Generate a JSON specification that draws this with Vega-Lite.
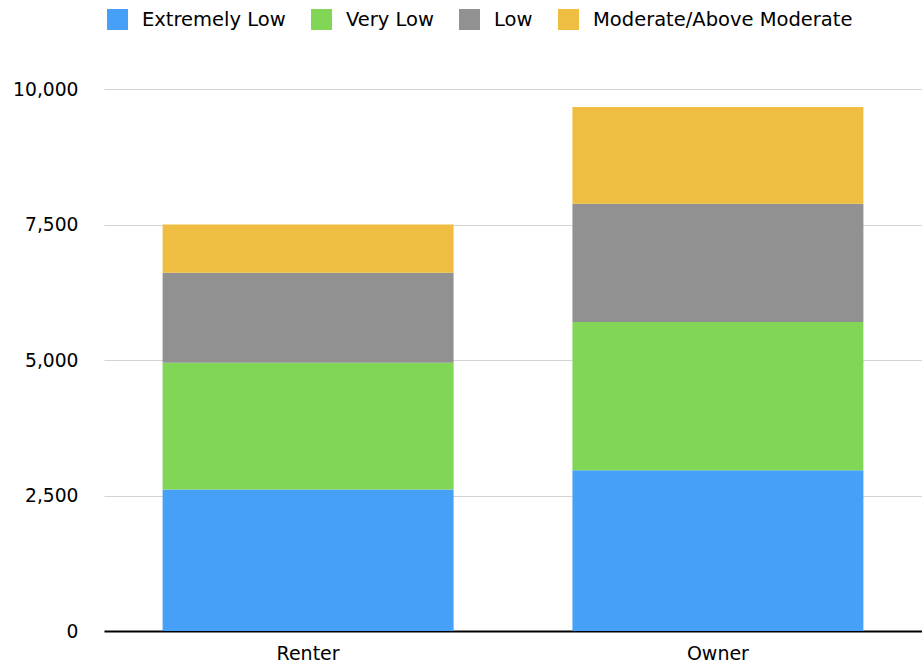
{
  "$schema": "https://vega.github.io/schema/vega-lite/v6.json",
  "autosize": "none",
  "width": 818,
  "height": 542,
  "padding": {"left": 104, "top": 89, "right": 0, "bottom": 33},
  "background": "white",
  "config": {
    "font": "DejaVu Sans",
    "view": {"stroke": null}
  },
  "data": {
    "values": [
      {"tenure": "Renter", "level": "Extremely Low", "households": 2610},
      {"tenure": "Renter", "level": "Very Low", "households": 2340},
      {"tenure": "Renter", "level": "Low", "households": 1661},
      {"tenure": "Renter", "level": "Moderate/Above Moderate", "households": 889},
      {"tenure": "Owner", "level": "Extremely Low", "households": 2965},
      {"tenure": "Owner", "level": "Very Low", "households": 2736},
      {"tenure": "Owner", "level": "Low", "households": 2183},
      {"tenure": "Owner", "level": "Moderate/Above Moderate", "households": 1784}
    ]
  },
  "transform": [
    {"calculate": "indexof(['Extremely Low','Very Low','Low','Moderate/Above Moderate'], datum.level)", "as": "stackOrder"}
  ],
  "mark": {"type": "bar"},
  "encoding": {
    "x": {
      "field": "tenure",
      "type": "nominal",
      "sort": ["Renter", "Owner"],
      "scale": {"paddingInner": 0.29, "paddingOuter": 0.143},
      "axis": {
        "title": null,
        "labelAngle": 0,
        "labelFontSize": 19,
        "labelColor": "#000000",
        "labelPadding": 13,
        "ticks": false,
        "domainColor": "#000000",
        "domainWidth": 2
      }
    },
    "y": {
      "field": "households",
      "type": "quantitative",
      "stack": "zero",
      "scale": {"domain": [0, 10000], "nice": false},
      "axis": {
        "title": null,
        "values": [0, 2500, 5000, 7500, 10000],
        "format": ",.0f",
        "labelFontSize": 18.7,
        "labelColor": "#000000",
        "labelPadding": 26,
        "ticks": false,
        "domain": false,
        "gridColor": "#d4d4d4",
        "gridWidth": 1
      }
    },
    "color": {
      "field": "level",
      "type": "nominal",
      "scale": {
        "domain": ["Extremely Low", "Very Low", "Low", "Moderate/Above Moderate"],
        "range": ["#47a0f8", "#82d656", "#919191", "#eebd41"]
      },
      "legend": {
        "title": null,
        "orient": "none",
        "direction": "horizontal",
        "legendX": 3,
        "legendY": -80,
        "symbolType": "square",
        "symbolSize": 441,
        "symbolStrokeWidth": 0,
        "symbolOpacity": 1,
        "labelFontSize": 19.5,
        "labelColor": "#000000",
        "labelOffset": 14,
        "labelLimit": 500,
        "columnPadding": 25
      }
    },
    "order": {"field": "stackOrder", "type": "quantitative"}
  }
}
